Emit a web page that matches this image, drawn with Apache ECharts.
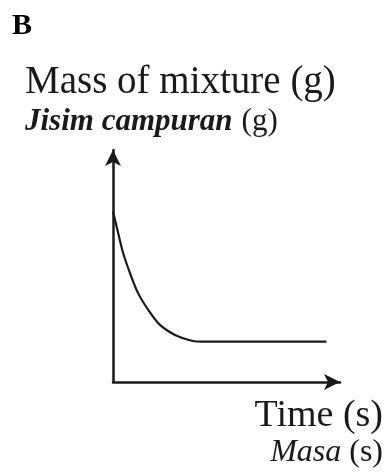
<!DOCTYPE html>
<html>
<head>
<meta charset="utf-8">
<script src="https://cdn.jsdelivr.net/npm/echarts@6/dist/echarts.min.js"></script>
<style>
  html, body { margin: 0; padding: 0; background: #fff; }
  #chart { width: 390px; height: 473px; }
</style>
</head>
<body>
<div id="chart"></div>
<script>
// Sketch of mass of the mixture falling over time, then levelling off
const timeValues = [0, 0.23, 0.45, 0.75, 1.11, 1.56, 2.07, 2.73, 3.47, 4.05, 9.4];
const massValues = [7.35, 6.41, 5.55, 4.69, 3.82, 3.10, 2.46, 2.03, 1.78, 1.74, 1.74];

const panelLabel = 'B';
const yTitleEn = 'Mass of mixture (g)';
const yTitleMs = 'Jisim campuran';
const yUnit = '(g)';
const xTitleEn = 'Time (s)';
const xTitleMs = 'Masa';
const xUnit = '(s)';

const ink = '#1a1a1a';
const serif = '"Liberation Serif", "DejaVu Serif", serif';

const chart = echarts.init(document.getElementById('chart'), null, { renderer: 'canvas' });

const axisCommon = {
  type: 'value',
  min: 0,
  max: 10,
  axisLine: {
    show: true,
    onZero: false,
    symbol: ['none', 'arrow'],
    symbolSize: [12, 16],
    lineStyle: { color: ink, width: 2.5 }
  },
  axisTick: { show: false },
  axisLabel: { show: false },
  splitLine: { show: false }
};

chart.setOption({
  animation: false,
  backgroundColor: '#fff',
  grid: { left: 113, top: 150, width: 227, height: 232 },
  xAxis: Object.assign({}, axisCommon),
  yAxis: Object.assign({}, axisCommon),
  series: [{
    type: 'line',
    data: timeValues.map((t, i) => [t, massValues[i]]),
    smooth: 0.3,
    showSymbol: false,
    lineStyle: { color: ink, width: 2.2 }
  }],
  graphic: [
    { type: 'text', left: 12, top: 11,
      style: { text: panelLabel, font: 'bold 30px ' + serif, fill: '#000' } },
    { type: 'text', left: 25, top: 63,
      style: { text: yTitleEn, font: '39px ' + serif, fill: ink } },
    { type: 'text', left: 25, top: 106,
      style: {
        text: '{i|' + yTitleMs + '}{r|' + yUnit + '}',
        rich: {
          i: { font: 'italic bold 31px ' + serif, fill: ink },
          r: { font: '31px ' + serif, fill: ink, padding: [0, 0, 0, 9] }
        }
      } },
    { type: 'text', right: 7, top: 397,
      style: { text: xTitleEn, font: '38px ' + serif, fill: ink } },
    { type: 'text', right: 7, top: 437,
      style: {
        text: '{i|' + xTitleMs + '}{r|' + xUnit + '}',
        rich: {
          i: { font: 'italic 32px ' + serif, fill: ink },
          r: { font: '32px ' + serif, fill: ink, padding: [0, 0, 0, 8] }
        }
      } }
  ]
});
</script>
</body>
</html>
